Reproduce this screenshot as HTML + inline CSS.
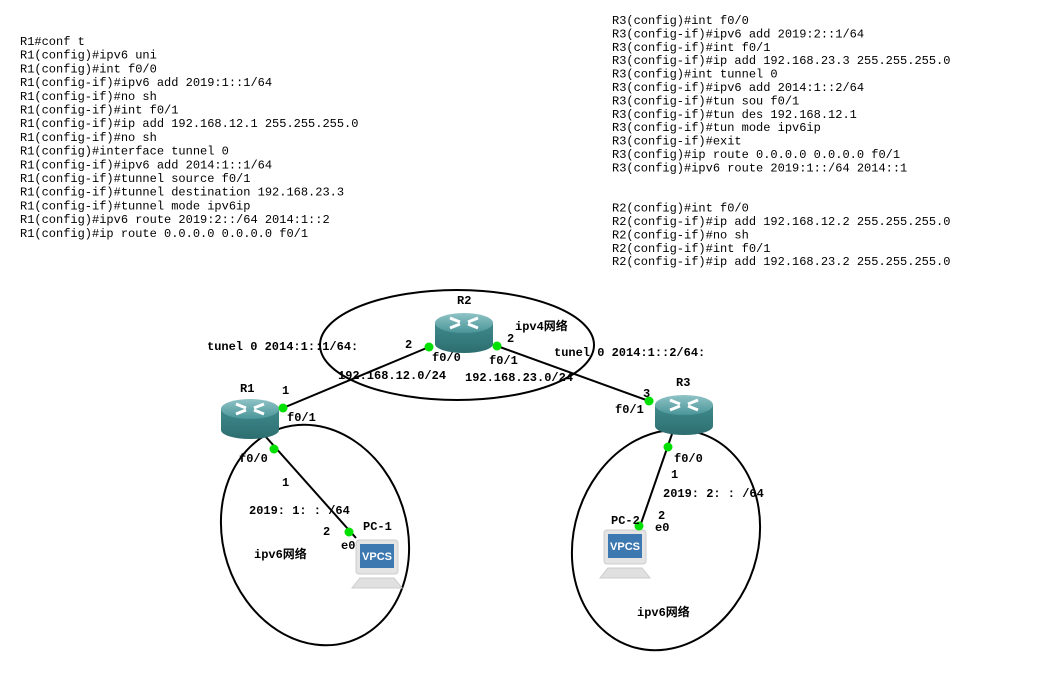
<!DOCTYPE html>
<html><head><meta charset="utf-8"><style>
html,body{margin:0;padding:0;background:#fff;width:1058px;height:682px;overflow:hidden}
svg{display:block}
.c{font-family:"Liberation Mono","Noto Sans CJK SC",monospace;font-size:12px;fill:#000}
.l{font-family:"Liberation Mono","Noto Sans CJK SC",monospace;font-size:12px;font-weight:bold;fill:#000}
</style></head><body>
<svg width="1058" height="682" viewBox="0 0 1058 682" xmlns="http://www.w3.org/2000/svg">
<defs>
<linearGradient id="rt" x1="0" y1="0" x2="0" y2="1"><stop offset="0" stop-color="#8fc3c6"/><stop offset="1" stop-color="#4a9598"/></linearGradient>
<linearGradient id="rb" x1="0" y1="0" x2="0" y2="1"><stop offset="0" stop-color="#3f8a8c"/><stop offset="1" stop-color="#2d6e70"/></linearGradient>
<g id="router">
<path d="M-29,-9 L-29,12 A29,9 0 0 0 29,12 L29,-9 Z" fill="url(#rb)"/>
<ellipse cx="0" cy="-9" rx="29" ry="10" fill="url(#rt)"/>
<path d="M-14,-14 l10,4 M14,-4 l-10,-4 M-14,-4 l10,-4 M14,-14 l-10,4" stroke="#fff" stroke-width="3"/>
</g>
<g id="pc">
<rect x="-20" y="-26" width="42" height="34" rx="3" fill="#e4e4e4" stroke="#ccc"/>
<rect x="-16" y="-22" width="34" height="24" fill="#3d78b0"/>
<text x="1" y="-6" text-anchor="middle" font-family="Liberation Sans,sans-serif" font-weight="bold" font-size="11" fill="#fff">VPCS</text>
<path d="M-16,12 L18,12 L26,22 L-24,22 Z" fill="#e0e0e0" stroke="#ccc"/>
</g>
</defs>
<g class="c">
<text x="20" y="45">R1#conf t</text>
<text x="20" y="58.7">R1(config)#ipv6 uni</text>
<text x="20" y="72.4">R1(config)#int f0/0</text>
<text x="20" y="86.1">R1(config-if)#ipv6 add 2019:1::1/64</text>
<text x="20" y="99.8">R1(config-if)#no sh</text>
<text x="20" y="113.5">R1(config-if)#int f0/1</text>
<text x="20" y="127.2">R1(config-if)#ip add 192.168.12.1 255.255.255.0</text>
<text x="20" y="140.9">R1(config-if)#no sh</text>
<text x="20" y="154.6">R1(config)#interface tunnel 0</text>
<text x="20" y="168.3">R1(config-if)#ipv6 add 2014:1::1/64</text>
<text x="20" y="182">R1(config-if)#tunnel source f0/1</text>
<text x="20" y="195.7">R1(config-if)#tunnel destination 192.168.23.3</text>
<text x="20" y="209.4">R1(config-if)#tunnel mode ipv6ip</text>
<text x="20" y="223.1">R1(config)#ipv6 route 2019:2::/64 2014:1::2</text>
<text x="20" y="236.8">R1(config)#ip route 0.0.0.0 0.0.0.0 f0/1</text>
<text x="612" y="24">R3(config)#int f0/0</text>
<text x="612" y="37.4">R3(config-if)#ipv6 add 2019:2::1/64</text>
<text x="612" y="50.8">R3(config-if)#int f0/1</text>
<text x="612" y="64.2">R3(config-if)#ip add 192.168.23.3 255.255.255.0</text>
<text x="612" y="77.6">R3(config)#int tunnel 0</text>
<text x="612" y="91">R3(config-if)#ipv6 add 2014:1::2/64</text>
<text x="612" y="104.4">R3(config-if)#tun sou f0/1</text>
<text x="612" y="117.8">R3(config-if)#tun des 192.168.12.1</text>
<text x="612" y="131.2">R3(config-if)#tun mode ipv6ip</text>
<text x="612" y="144.6">R3(config-if)#exit</text>
<text x="612" y="158">R3(config)#ip route 0.0.0.0 0.0.0.0 f0/1</text>
<text x="612" y="171.4">R3(config)#ipv6 route 2019:1::/64 2014::1</text>
<text x="612" y="211.6">R2(config)#int f0/0</text>
<text x="612" y="225">R2(config-if)#ip add 192.168.12.2 255.255.255.0</text>
<text x="612" y="238.4">R2(config-if)#no sh</text>
<text x="612" y="251.8">R2(config-if)#int f0/1</text>
<text x="612" y="265.2">R2(config-if)#ip add 192.168.23.2 255.255.255.0</text>
</g>
<g fill="none" stroke="#000" stroke-width="2">
<ellipse cx="457" cy="345" rx="137" ry="55"/>
<ellipse cx="315" cy="535" rx="92" ry="112" transform="rotate(-18 315 535)"/>
<ellipse cx="666" cy="540" rx="92" ry="112" transform="rotate(18 666 540)"/>
<line x1="283" y1="408" x2="429" y2="347"/>
<line x1="497" y1="346" x2="649" y2="401"/>
<line x1="266" y1="437" x2="356" y2="538"/>
<line x1="672" y1="434" x2="637" y2="535"/>
</g>
<use href="#router" x="464" y="332"/>
<use href="#router" x="250" y="418"/>
<use href="#router" x="684" y="414"/>
<use href="#pc" x="376" y="566"/>
<use href="#pc" x="624" y="556"/>
<g fill="#00e000">
<circle cx="283" cy="408" r="4.5"/><circle cx="429" cy="347" r="4.5"/>
<circle cx="497" cy="346" r="4.5"/><circle cx="649" cy="401" r="4.5"/>
<circle cx="274" cy="449" r="4.5"/><circle cx="349" cy="532" r="4.5"/>
<circle cx="668" cy="447" r="4.5"/><circle cx="639" cy="526" r="4.5"/>
</g>
<g class="l">
<text x="457" y="304">R2</text>
<text x="515" y="330">ipv4网络</text>
<text x="207" y="350">tunel 0 2014:1::1/64:</text>
<text x="405" y="348">2</text>
<text x="507" y="342">2</text>
<text x="432" y="361">f0/0</text>
<text x="489" y="364">f0/1</text>
<text x="554" y="356">tunel 0 2014:1::2/64:</text>
<text x="338" y="379">192.168.12.0/24</text>
<text x="465" y="381">192.168.23.0/24</text>
<text x="240" y="392">R1</text>
<text x="282" y="394">1</text>
<text x="287" y="421">f0/1</text>
<text x="676" y="386">R3</text>
<text x="643" y="397">3</text>
<text x="615" y="413">f0/1</text>
<text x="239" y="462">f0/0</text>
<text x="282" y="486">1</text>
<text x="249" y="514">2019: 1: : /64</text>
<text x="323" y="535">2</text>
<text x="363" y="530">PC-1</text>
<text x="341" y="549">e0</text>
<text x="254" y="558">ipv6网络</text>
<text x="674" y="462">f0/0</text>
<text x="671" y="478">1</text>
<text x="663" y="497">2019: 2: : /64</text>
<text x="611" y="524">PC-2</text>
<text x="658" y="519">2</text>
<text x="655" y="531">e0</text>
<text x="637" y="616">ipv6网络</text>
</g>
</svg>
</body></html>
